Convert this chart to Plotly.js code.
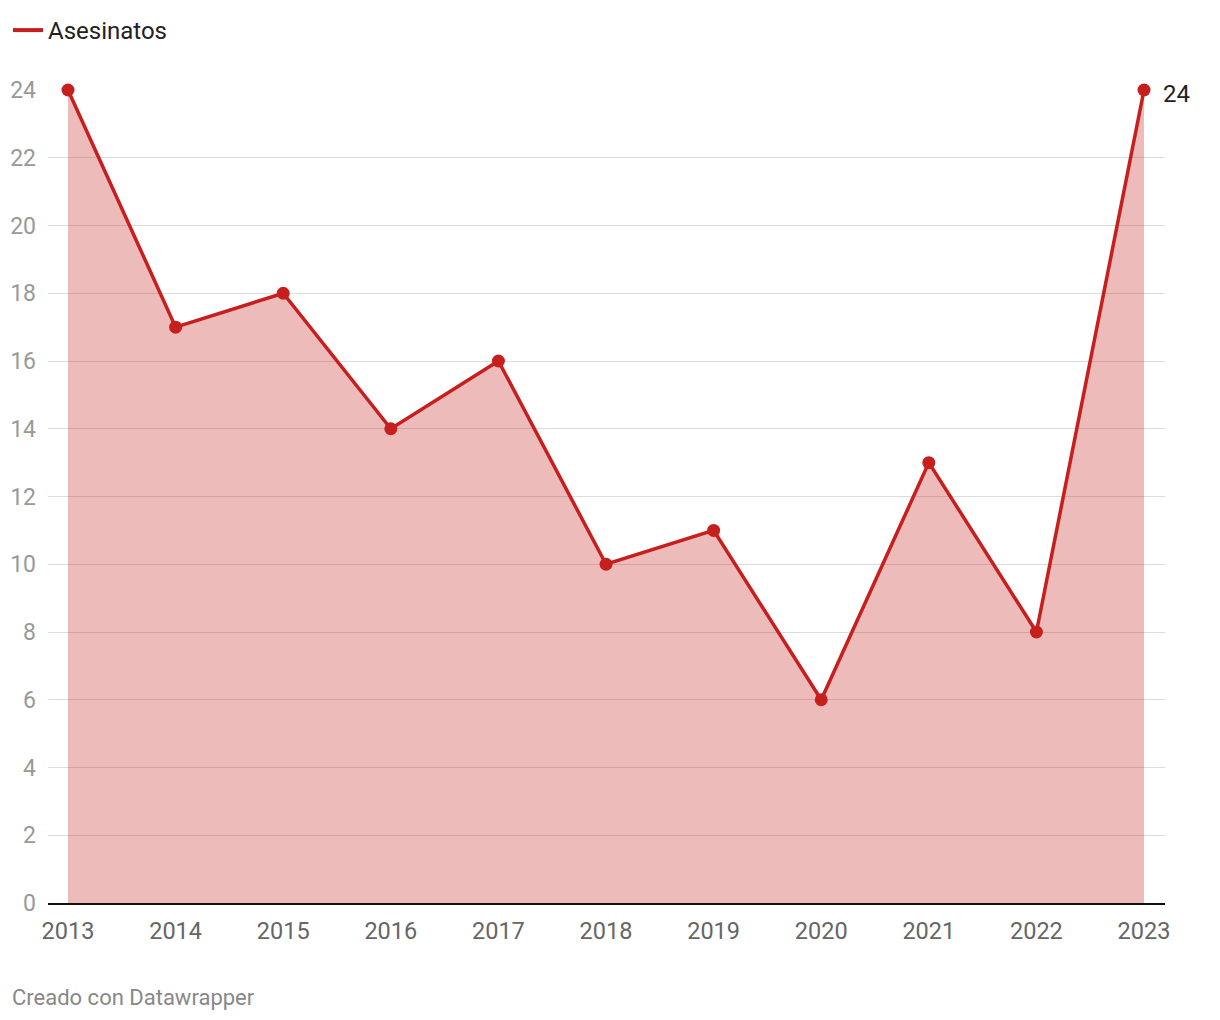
<!DOCTYPE html>
<html><head><meta charset="utf-8">
<script src="https://cdn.plot.ly/plotly-3.0.1.min.js"></script>
<style>html,body{margin:0;padding:0;background:#fff;}#chart{width:1220px;height:1020px;}</style>
</head><body><div id="chart"></div>
<script>
const years = [2013, 2014, 2015, 2016, 2017, 2018, 2019, 2020, 2021, 2022, 2023];
const asesinatos = [24, 17, 18, 14, 16, 10, 11, 6, 13, 8, 24];
const seriesName = 'Asesinatos';
const yTicks = [0, 2, 4, 6, 8, 10, 12, 14, 16, 18, 20, 22, 24];

const red = '#c71e1e';
const traces = [
  {
    x: years, y: asesinatos, type: 'scatter', mode: 'lines+markers',
    fill: 'tozeroy', fillcolor: 'rgba(199,30,30,0.3)',
    line: {color: red, width: 3.5},
    marker: {color: red, size: 13},
    cliponaxis: false, showlegend: false, hoverinfo: 'x+y'
  },
  {
    x: [null], y: [null], type: 'scatter', mode: 'lines', name: seriesName,
    line: {color: red, width: 4}, showlegend: true
  }
];
const last = years.length - 1;
const layout = {
  width: 1220, height: 1020,
  margin: {l: 48, r: 55, t: 90, b: 117},
  paper_bgcolor: '#fff', plot_bgcolor: '#fff',
  font: {family: 'Roboto, sans-serif', color: '#333'},
  showlegend: true,
  legend: {
    orientation: 'h', xref: 'container', yref: 'container',
    x: 8 / 1220, y: 1 - 8 / 1020, xanchor: 'left', yanchor: 'top',
    font: {size: 24, color: '#222'}, itemwidth: 30, tracegroupgap: 0,
    bgcolor: 'rgba(0,0,0,0)'
  },
  xaxis: {
    range: [2012.814, 2023.195], tickvals: years, ticktext: years.map(String),
    showgrid: false, zeroline: false, showline: true, linecolor: '#111', linewidth: 2,
    ticks: '', tickfont: {size: 23.5, color: '#666'}, ticklabelstandoff: 6, fixedrange: true
  },
  yaxis: {
    range: [0, 24], tickvals: yTicks, showgrid: true, gridcolor: '#dcdcdc', gridwidth: 1,
    zeroline: false, showline: false, ticks: '',
    tickfont: {size: 23, color: '#999'}, ticklabelstandoff: 11, fixedrange: true
  },
  annotations: [
    {
      x: years[last], y: asesinatos[last], xref: 'x', yref: 'y',
      text: String(asesinatos[last]), showarrow: false,
      xanchor: 'left', yanchor: 'middle', xshift: 17, yshift: -4,
      font: {size: 24, color: '#222'}
    },
    {
      x: (10 - 48) / (1220 - 48 - 55), y: -(997 - 903) / (903 - 90),
      xref: 'paper', yref: 'paper', text: 'Creado con Datawrapper',
      showarrow: false, xanchor: 'left', yanchor: 'middle',
      font: {size: 22, color: '#888'}
    }
  ]
};
Plotly.newPlot('chart', traces, layout, {displayModeBar: false, staticPlot: true});
</script></body></html>
